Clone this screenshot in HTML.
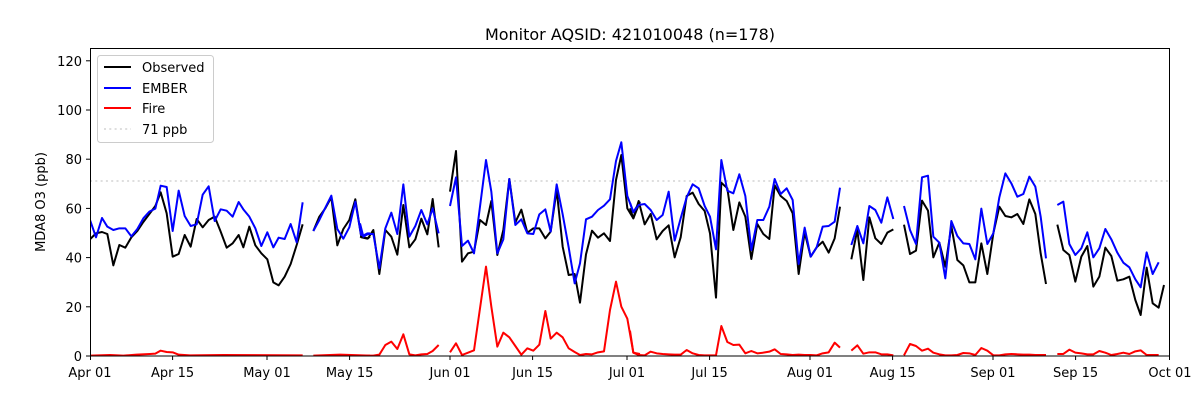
<!DOCTYPE html>
<html><head><meta charset="utf-8"><style>
body{margin:0;background:#fff}
svg{display:block}
text{font-family:"DejaVu Sans","Liberation Sans",sans-serif;fill:#000}
.s{fill:none;stroke-width:2;vector-effect:non-scaling-stroke;stroke-linejoin:round}
.k{stroke:#000}.b{stroke:#0000ff}.r{stroke:#ff0000}
</style></head><body>
<svg width="1200" height="400" viewBox="0 0 1200 400" xmlns="http://www.w3.org/2000/svg">
<rect width="1200" height="400" fill="#fff"/>
<text x="630" y="40" font-size="16" text-anchor="middle">Monitor AQSID: 421010048 (n=178)</text>
<line x1="90" y1="181" x2="1170" y2="181" stroke="#d3d3d3" stroke-width="1.5" stroke-dasharray="2,3.3"/>
<defs><clipPath id="c"><rect x="90" y="48" width="1080" height="308"/></clipPath></defs>
<g clip-path="url(#c)">
<g transform="translate(90,120) scale(0.33333)">
<polyline class="s r" points="0,707 60,705 100,707 140,704 180,702 196,701 212,692 230,696 248,697 266,704 300,706 400,705 638,706"/>
<polyline class="s r" points="670,707 750,704 840,707"/>
<polyline class="s k" points="0,358 18,340 36,336 52,342 70,436 88,375 106,383 124,352 142,333 160,306 178,282 196,258 212,217 230,280 248,410 266,402 284,345 302,380 320,297 338,322 356,300 374,290 392,335 410,383 428,370 446,345 460,382 478,320 496,376 514,400 532,418 550,487 566,496 584,470 602,432 620,375 638,313"/>
<polyline class="s k" points="670,333 688,290 706,265 724,232 742,376 760,327 778,300 796,238 814,352 832,356 840,350"/>
<polyline class="s b" points="0,300 18,352 36,294 52,320 70,330 88,325 106,325 124,349 142,327 160,295 178,275 196,266 212,197 230,201 248,333 266,212 284,288 302,318 320,313 338,224 356,199 374,303 392,268 410,272 428,290 446,246 460,268 478,290 496,325 514,378 532,337 550,382 566,353 584,357 602,312 620,367 638,247"/>
<polyline class="s b" points="670,333 688,300 706,263 724,227 742,327 760,356 778,322 796,245 814,350 832,340 840,340"/>
</g>
<g transform="translate(360,120) scale(0.33333)">
<polyline class="s r" points="0,707 24,707 40,707 58,704 76,675 94,665 112,687 130,643 148,703 166,706 184,703 202,702 218,693 236,675"/>
<polyline class="s r" points="270,697 288,670 306,705 324,698 342,691 360,565 378,440 394,560 412,680 430,638 448,652 466,678 484,704 502,685 520,692 538,674 556,573 572,656 590,638 608,652 626,685 644,696 660,705 678,702 696,703 714,697 732,694 750,570 768,485 784,560 802,596 820,698 840,702"/>
<polyline class="s k" points="0,350 10,352 24,355 40,330 58,462 76,330 94,350 112,404 130,255 148,382 166,358 184,296 202,343 218,237 236,382"/>
<polyline class="s k" points="270,215 288,93 306,425 324,400 342,395 360,300 378,315 394,243 412,405 430,330 448,177 466,307 484,269 502,338 520,325 538,325 556,355 572,335 590,210 608,380 626,465 644,462 660,548 678,403 696,332 714,353 732,340 750,363 768,180 784,105 802,265 820,295 840,245"/>
<polyline class="s b" points="0,310 10,350 24,342 40,342 58,445 76,325 94,278 112,342 130,193 148,350 166,318 184,270 202,313 218,265 236,340"/>
<polyline class="s b" points="270,258 288,172 306,378 324,362 342,400 360,260 378,120 394,215 412,400 430,358 448,177 466,315 484,298 502,340 520,342 538,283 556,268 572,335 590,193 608,283 626,382 644,490 660,430 678,298 696,290 714,270 732,257 750,238 768,123 784,67 802,228 820,276 840,245"/>
</g>
<g transform="translate(630,120) scale(0.33333)">
<polyline class="s r" points="0,632 10,698 26,705 44,706 62,695 80,700 98,702 116,703 134,704 152,704 170,690 188,700 206,705 224,706 240,706 258,706 274,618 292,666 310,675 328,674 346,700 364,693 382,700 400,698 418,695 434,688 452,702 470,703 488,705 506,704 524,705 542,705 560,706 578,700 596,697 614,668 630,683"/>
<polyline class="s r" points="664,692 682,676 700,701 718,697 736,697 754,703 772,703 790,706"/>
<polyline class="s k" points="0,265 10,295 26,243 44,313 62,282 80,358 98,333 116,316 134,412 152,352 170,228 188,218 206,252 224,273 240,340 258,533 274,188 292,205 310,330 328,247 346,290 364,417 382,312 400,342 418,357 434,196 452,228 470,243 488,280 506,462 524,337 542,410 560,382 578,365 596,398 614,355 630,260"/>
<polyline class="s k" points="664,418 682,330 700,480 718,292 736,355 754,372 772,338 790,328"/>
<polyline class="s b" points="0,248 10,277 26,255 44,252 62,270 80,300 98,285 116,215 134,362 152,295 170,232 188,193 206,205 224,258 240,290 258,388 274,120 292,212 310,220 328,163 346,228 364,390 382,300 400,300 418,260 434,177 452,222 470,205 488,240 506,432 524,323 542,410 560,382 578,320 596,318 614,305 630,203"/>
<polyline class="s b" points="664,375 682,318 700,370 718,258 736,270 754,308 772,232 790,297"/>
</g>
<g transform="translate(900,120) scale(0.33333)">
<polyline class="s r" points="12,706 30,672 48,678 66,692 84,686 100,698 118,703 136,706 154,706 172,705 190,699 208,700 226,705 244,684 262,692 280,706 298,706 316,703 334,702 352,703 370,704 388,704 406,705 422,705 438,705"/>
<polyline class="s r" points="472,702 490,702 508,689 526,698 544,700 562,703 580,703 598,693 616,698 634,705 652,702 670,698 688,702 706,694 722,691 740,705 758,705 776,705"/>
<polyline class="s k" points="12,314 30,402 48,392 66,242 84,272 100,412 118,368 136,440 154,318 172,420 190,436 208,487 226,487 244,370 262,462 280,340 298,260 316,288 334,292 352,282 370,312 388,238 406,282 422,400 438,492"/>
<polyline class="s k" points="472,314 490,390 508,405 526,485 544,410 562,378 580,500 598,470 616,383 634,408 652,482 670,478 688,470 706,540 722,585 740,443 758,550 776,563 792,495"/>
<polyline class="s b" points="12,258 30,330 48,372 66,172 84,167 100,350 118,368 136,475 154,303 172,348 190,370 208,372 226,418 244,266 262,372 280,340 298,232 316,160 334,190 352,230 370,222 388,170 406,200 422,290 438,415"/>
<polyline class="s b" points="472,255 490,245 508,372 526,405 544,385 562,337 580,412 598,385 616,327 634,358 652,398 670,428 688,442 706,478 722,502 740,397 758,462 776,427"/>
</g>
</g>
<rect x="90.5" y="48.5" width="1079" height="307.5" fill="none" stroke="#000" stroke-width="1"/>
<g stroke="#000" stroke-width="1">
<line x1="86" y1="356" x2="90" y2="356"/><line x1="86" y1="306.8" x2="90" y2="306.8"/><line x1="86" y1="257.6" x2="90" y2="257.6"/><line x1="86" y1="208.4" x2="90" y2="208.4"/><line x1="86" y1="159.2" x2="90" y2="159.2"/><line x1="86" y1="110" x2="90" y2="110"/><line x1="86" y1="60.8" x2="90" y2="60.8"/>
<line x1="90.5" y1="356" x2="90.5" y2="360"/><line x1="172.6" y1="356" x2="172.6" y2="360"/><line x1="267" y1="356" x2="267" y2="360"/><line x1="349.6" y1="356" x2="349.6" y2="360"/><line x1="450" y1="356" x2="450" y2="360"/><line x1="532.6" y1="356" x2="532.6" y2="360"/><line x1="627" y1="356" x2="627" y2="360"/><line x1="709.6" y1="356" x2="709.6" y2="360"/><line x1="810" y1="356" x2="810" y2="360"/><line x1="892.6" y1="356" x2="892.6" y2="360"/><line x1="993" y1="356" x2="993" y2="360"/><line x1="1075.6" y1="356" x2="1075.6" y2="360"/><line x1="1169.5" y1="356" x2="1169.5" y2="360"/>
</g>
<g font-size="13" text-anchor="end">
<text x="82" y="361">0</text><text x="82" y="312">20</text><text x="82" y="262.6">40</text><text x="82" y="213.4">60</text><text x="82" y="164.2">80</text><text x="82" y="115">100</text><text x="82" y="65.8">120</text>
</g>
<g font-size="13" text-anchor="middle">
<text x="90" y="377">Apr 01</text><text x="172.6" y="377">Apr 15</text><text x="267" y="377">May 01</text><text x="349.6" y="377">May 15</text><text x="450" y="377">Jun 01</text><text x="532.6" y="377">Jun 15</text><text x="627" y="377">Jul 01</text><text x="709.6" y="377">Jul 15</text><text x="810" y="377">Aug 01</text><text x="892.6" y="377">Aug 15</text><text x="993" y="377">Sep 01</text><text x="1075.6" y="377">Sep 15</text><text x="1170" y="377">Oct 01</text>
</g>
<text transform="translate(45,202) rotate(-90)" font-size="13" text-anchor="middle">MDA8 O3 (ppb)</text>
<rect x="97.5" y="55.5" width="116" height="87" rx="3" fill="#fff" fill-opacity="0.8" stroke="#ccc"/>
<line x1="104" y1="67" x2="131" y2="67" stroke="#000" stroke-width="2"/>
<line x1="104" y1="88" x2="131" y2="88" stroke="#0000ff" stroke-width="2"/>
<line x1="104" y1="108" x2="131" y2="108" stroke="#ff0000" stroke-width="2"/>
<line x1="104" y1="129" x2="131" y2="129" stroke="#d3d3d3" stroke-width="1.5" stroke-dasharray="2,3.3"/>
<g font-size="13"><text x="142" y="72">Observed</text><text x="142" y="93">EMBER</text><text x="142" y="113">Fire</text><text x="142" y="134">71 ppb</text></g>
</svg>
</body></html>
